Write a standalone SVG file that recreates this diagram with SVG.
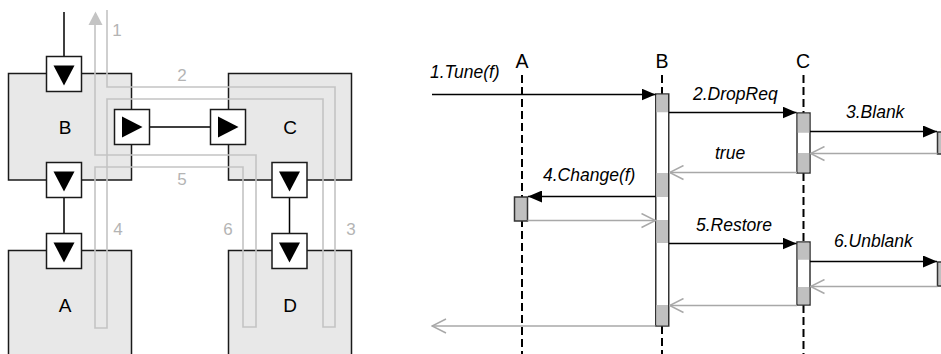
<svg xmlns="http://www.w3.org/2000/svg" width="941" height="354" viewBox="0 0 941 354">
<style>
.box{fill:#e8e8e8;stroke:#1a1a1a;stroke-width:1.5}
.port{fill:#fff;stroke:#1a1a1a;stroke-width:1.5}
.tri{fill:#000}
.wire{stroke:#000;stroke-width:1.5;fill:none}
.route{stroke:#c4c4c4;stroke-width:1.6;fill:none}
.lbl{font-family:"Liberation Sans",Arial,sans-serif;font-size:19px;text-anchor:middle;fill:#000}
.num{font-family:"Liberation Sans",Arial,sans-serif;font-size:17px;text-anchor:middle;fill:#b4b4b4}
.hdr{font-family:"Liberation Sans",Arial,sans-serif;font-size:19.5px;text-anchor:middle;fill:#000}
.msg{font-family:"Liberation Sans",Arial,sans-serif;font-size:17.5px;font-style:italic;fill:#000}
.life{stroke:#000;stroke-width:2;stroke-dasharray:8 4;fill:none}
.act{fill:#fff;stroke:#333;stroke-width:1.5}
.band{fill:#c0c0c0}
.actg{fill:#c0c0c0;stroke:#333;stroke-width:1.5}
.call{stroke:#000;stroke-width:1.5;fill:none;marker-end:url(#fa)}
.ret{stroke:#a8a8a8;stroke-width:1.5;fill:none;marker-end:url(#oa)}
</style>
<defs>
<marker id="fa" viewBox="0 0 14 12" refX="14" refY="6" markerWidth="14" markerHeight="12" markerUnits="userSpaceOnUse" orient="auto">
<path d="M0,0 L14,6 L0,12 z" fill="#000"/>
</marker>
<marker id="oa" viewBox="0 0 16 16" refX="15" refY="8" markerWidth="16" markerHeight="16" markerUnits="userSpaceOnUse" orient="auto">
<path d="M1,1 L15,8 L1,15" fill="none" stroke="#a8a8a8" stroke-width="1.5"/>
</marker>
</defs>

<!-- Left diagram nodes -->
<g id="nodeB"><rect class="box" x="8.5" y="73.5" width="123" height="106.5"/><text class="lbl" x="65" y="134">B</text></g>
<g id="nodeC"><rect class="box" x="228.5" y="73.5" width="123" height="106.5"/><text class="lbl" x="290" y="134">C</text></g>
<g id="nodeA"><rect class="box" x="8.5" y="250.5" width="123" height="120"/><text class="lbl" x="65" y="312">A</text></g>
<g id="nodeD"><rect class="box" x="228.5" y="250.5" width="123" height="120"/><text class="lbl" x="290" y="312">D</text></g>

<!-- Routes -->
<g id="routes">
<path class="route" d="M107,10 V87 H335 V327 H323 V99 H107 V328 H95 V167 H243 V327 H256 V155 H95 V24"/>
<path d="M95.5,11.5 L88.5,25 L102.5,25 z" fill="#c4c4c4"/>
<text class="num" x="117" y="36">1</text>
<text class="num" x="182" y="81">2</text>
<text class="num" x="351" y="235">3</text>
<text class="num" x="118" y="235">4</text>
<text class="num" x="182" y="185">5</text>
<text class="num" x="228" y="235">6</text>
</g>

<!-- Left connectors -->
<g id="wires">
<path class="wire" d="M64,12 V56 M149,127 H210 M64,197 V233 M289.5,197 V233"/>
</g>

<!-- Ports -->
<g id="portBtop"><rect class="port" x="46.5" y="56.5" width="35" height="35"/><path class="tri" d="M53.5,65.5 H74.5 L64,85.5 z"/></g>
<g id="portBright"><rect class="port" x="114.5" y="109.5" width="35" height="35"/><path class="tri" d="M122,116.5 V137.5 L142.5,127 z"/></g>
<g id="portCleft"><rect class="port" x="210.5" y="109.5" width="35" height="35"/><path class="tri" d="M218,116.5 V137.5 L238.5,127 z"/></g>
<g id="portBbot"><rect class="port" x="46.5" y="162.5" width="35" height="35"/><path class="tri" d="M53.5,171.5 H74.5 L64,191.5 z"/></g>
<g id="portAtop"><rect class="port" x="46.5" y="233.5" width="35" height="35"/><path class="tri" d="M53.5,242.5 H74.5 L64,262.5 z"/></g>
<g id="portCbot"><rect class="port" x="272" y="162.5" width="35" height="35"/><path class="tri" d="M279,171.5 H300 L289.5,191.5 z"/></g>
<g id="portDtop"><rect class="port" x="272" y="233.5" width="35" height="35"/><path class="tri" d="M279,242.5 H300 L289.5,262.5 z"/></g>

<!-- Sequence diagram -->
<g id="lifeA"><text class="hdr" x="522" y="68">A</text><path class="life" d="M522,75 V354"/><rect class="actg" x="514.5" y="197" width="13" height="24"/></g>
<g id="lifeB"><text class="hdr" x="662" y="68">B</text><path class="life" d="M662,75 V94 M662,326 V354"/>
<rect class="act" x="655.75" y="94" width="13" height="232"/>
<rect class="band" x="656.5" y="94.75" width="11.5" height="17.5"/>
<rect class="band" x="656.5" y="173" width="11.5" height="24"/>
<rect class="band" x="656.5" y="220" width="11.5" height="23"/>
<rect class="band" x="656.5" y="305" width="11.5" height="20.25"/>
</g>
<g id="lifeC"><text class="hdr" x="803" y="68">C</text><path class="life" d="M803.5,75 V113 M803.5,173 V242 M803.5,305 V354"/>
<rect class="act" x="797" y="113" width="13" height="60"/>
<rect class="band" x="797.75" y="113.75" width="11.5" height="19"/>
<rect class="band" x="797.75" y="153" width="11.5" height="19.25"/>
<rect class="act" x="797" y="242" width="13" height="63"/>
<rect class="band" x="797.75" y="242.75" width="11.5" height="17"/>
<rect class="band" x="797.75" y="287" width="11.5" height="17.25"/>
</g>
<g id="lifeD"><text class="hdr" x="947" y="68">D</text>
<rect class="actg" x="937.5" y="132" width="13" height="22"/>
<rect class="actg" x="937.5" y="262" width="13" height="24"/>
</g>

<g id="messages">
<path class="call" d="M432,94.5 H655.5"/>
<text class="msg" x="430" y="78">1.Tune(f)</text>
<path class="call" d="M669,112.5 H796.5"/>
<text class="msg" x="693" y="100">2.DropReq</text>
<path class="call" d="M810,131.5 H937"/>
<text class="msg" x="846" y="118">3.Blank</text>
<path class="ret" d="M937.5,153.5 H810.5"/>
<path class="ret" d="M797,172.5 H669.5"/>
<text class="msg" x="715" y="159">true</text>
<path class="call" d="M655.5,196.5 H528"/>
<text class="msg" x="543" y="181">4.Change(f)</text>
<path class="ret" d="M527.5,220.5 H655.5"/>
<path class="call" d="M669,243.5 H796.5"/>
<text class="msg" x="696" y="230.5">5.Restore</text>
<path class="call" d="M810,261.5 H937"/>
<text class="msg" x="834" y="247">6.Unblank</text>
<path class="ret" d="M937.5,286.5 H810.5"/>
<path class="ret" d="M797,305.5 H669.5"/>
<path class="ret" d="M655.5,326 H432"/>
</g>
</svg>
